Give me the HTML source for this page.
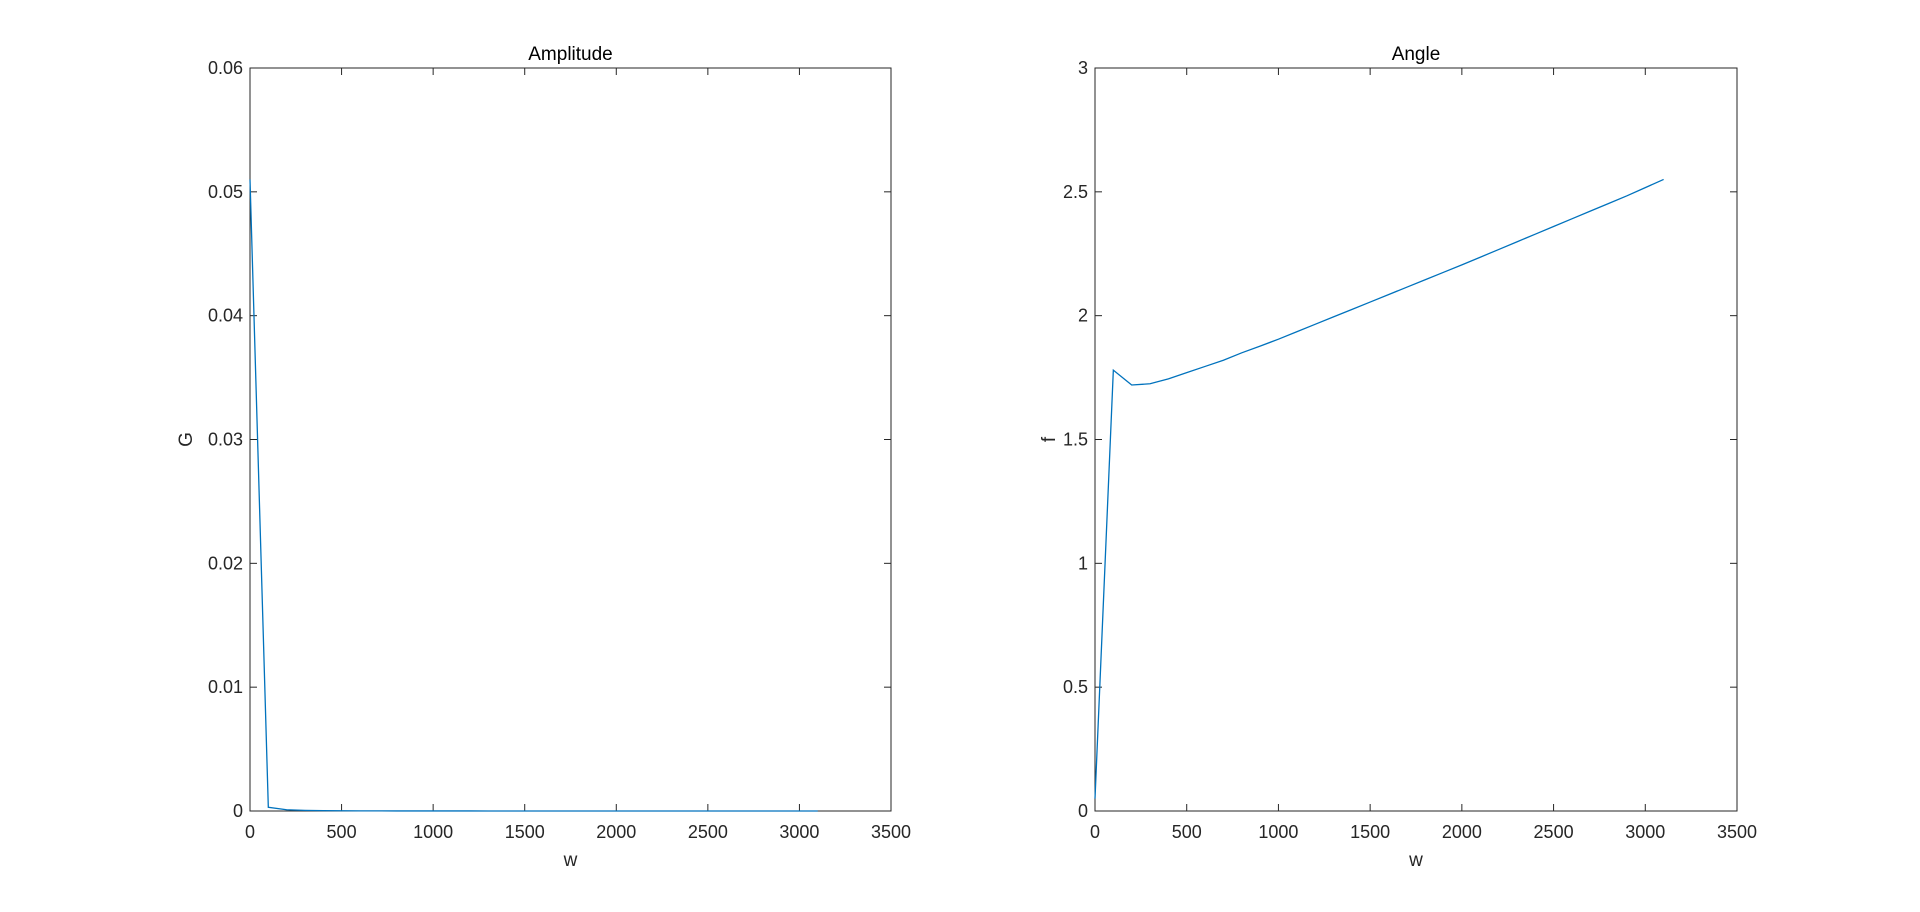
<!DOCTYPE html>
<html><head><meta charset="utf-8"><style>
body{margin:0;background:#fff;}
svg{display:block;font-family:"Liberation Sans",Arial,sans-serif;}
</style></head><body>
<svg id="fig" width="1920" height="912" viewBox="0 0 1920 912"></svg>
<script>
const wValues = [0,100,200,300,400,500,600,700,800,900,1000,1100,1200,1300,1400,1500,1600,1700,1800,1900,2000,2100,2200,2300,2400,2500,2600,2700,2800,2900,3000,3100];
const ampValues = [0.051,0.0003,0.0001,0.00005,0.00003,0.00002,0.00001,0.00001,0.000005,0.000005,0.000004,0.000003,0.000003,0.000002,0.000002,0.000002,0.000002,0.000001,0.000001,0.000001,0.000001,0.000001,0.000001,0.000001,0.000001,0.000001,0.000001,0.000001,0.000001,0.000001,0.000001,0.000001];
const angleValues = [0.05,1.78,1.72,1.725,1.745,1.77,1.795,1.82,1.85,1.877,1.905,1.935,1.965,1.995,2.025,2.055,2.085,2.115,2.145,2.175,2.205,2.236,2.267,2.298,2.329,2.36,2.391,2.422,2.453,2.484,2.517,2.55];
const xTicks = [0,500,1000,1500,2000,2500,3000,3500];
const ampTicks = [0,0.01,0.02,0.03,0.04,0.05,0.06];
const ampTickLabels = ["0","0.01","0.02","0.03","0.04","0.05","0.06"];
const angTicks = [0,0.5,1,1.5,2,2.5,3];
const angTickLabels = ["0","0.5","1","1.5","2","2.5","3"];

const NS="http://www.w3.org/2000/svg";
const svg=document.getElementById('fig');
function mk(tag,attrs,parent){const e=document.createElementNS(NS,tag);for(const k in attrs)e.setAttribute(k,attrs[k]);(parent||svg).appendChild(e);return e;}

function panel(key,L,R,T,B,ymax,yTicks,yLabels,ys,title,ylabel){
  const g=mk('g',{});
  
  
  const sx=v=>L+(v/3500)*(R-L);
  const sy=v=>B-(v/ymax)*(B-T);
  mk('rect',{x:L,y:T,width:R-L,height:B-T,fill:'#fff',stroke:'#262626','stroke-width':1},g);
  xTicks.forEach(t=>{
    const x=sx(t);
    mk('line',{x1:x,y1:B,x2:x,y2:B-7,stroke:'#262626'},g);
    mk('line',{x1:x,y1:T,x2:x,y2:T+7,stroke:'#262626'},g);
    const tx=mk('text',{x:x,y:B+27,'text-anchor':'middle','font-size':18,fill:'#262626'},g);
    tx.textContent=t;
    
    
  });
  yTicks.forEach((t,i)=>{
    const y=sy(t);
    mk('line',{x1:L,y1:y,x2:L+7,y2:y,stroke:'#262626'},g);
    mk('line',{x1:R,y1:y,x2:R-7,y2:y,stroke:'#262626'},g);
    const tx=mk('text',{x:L-7,y:y+6,'text-anchor':'end','font-size':18,fill:'#262626'},g);
    tx.textContent=yLabels[i];
    
    
  });
  const pts=wValues.map((w,i)=>sx(w).toFixed(2)+','+sy(ys[i]).toFixed(2)).join(' ');
  const line=mk('polyline',{points:pts,fill:'none',stroke:'#0072bd','stroke-width':1.3},g);
  
  
  const tt=mk('text',{x:(L+R)/2,y:T-8,'text-anchor':'middle','font-size':19,fill:'#000'},g);
  tt.textContent=title;
  
  
  const xl=mk('text',{x:(L+R)/2,y:B+55,'text-anchor':'middle','font-size':19,fill:'#262626'},g);
  xl.textContent='w';
  
  
  const yx=ylabel==='G'?L-58:L-40;
  const yl=mk('text',{x:yx,y:(T+B)/2,'text-anchor':'middle','font-size':19,fill:'#262626',transform:`rotate(-90 ${yx} ${(T+B)/2})`},g);
  yl.textContent=ylabel;
  
  
}
panel('amplitude',250,891,68,811,0.06,ampTicks,ampTickLabels,ampValues,'Amplitude','G');
panel('angle',1095,1737,68,811,3,angTicks,angTickLabels,angleValues,'Angle','f');
</script>
</body></html>
